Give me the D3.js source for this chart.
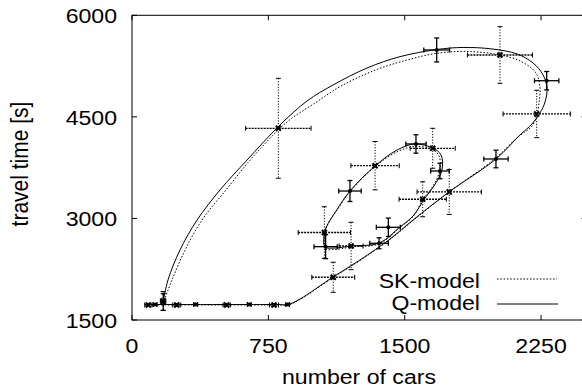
<!DOCTYPE html>
<html>
<head>
<meta charset="utf-8">
<script src="https://d3js.org/d3.v7.min.js"></script>
<style>
  body { margin: 0; background: #fff; }
  text { font-family: "Liberation Sans", Arial, sans-serif; font-size: 21px; fill: #000; }
</style>
</head>
<body>
<svg width="582" height="390"></svg>
<script>

var xTicks = [0, 750, 1500, 2250];
var yTicks = [1500, 3000, 4500, 6000];

// SK-model measurements (cross markers, dotted error bars)
var skX    = [805, 2024, 2226, 1745, 1599, 1654, 1337, 1058, 1205, 1107, 90, 171, 246, 521, 781];
var skY    = [4331, 5414, 4543, 3391, 3283, 4036, 3779, 2792, 2593, 2131, 1722, 1780, 1722, 1722, 1722];
var skXErr = [180, 179, 185, 177, 130, 124, 133, 144, 66, 118, 20, 15, 22, 20, 25];
var skYErr = [738, 418, 350, 332, 258, 295, 357, 381, 350, 222, 20, 140, 20, 20, 20];

// Q-model measurements (solid error bars)
var qX    = [1676, 2281, 2002, 1694, 1562, 1199, 1065, 1359, 1410, 127, 172, 350, 645, 856];
var qY    = [5488, 5034, 3878, 3701, 4100, 3405, 2583, 2633, 2869, 1729, 1766, 1729, 1729, 1729];
var qXErr = [71, 67, 67, 51, 56, 62, 64, 51, 66, 10, 10, 10, 10, 10];
var qYErr = [177, 136, 130, 115, 136, 155, 177, 81, 136, 10, 123, 10, 10, 10];

// model curves
var qOuter = [[71,1729],[500,1729],[800,1729],[858,1729],[924,1810],[1106,2135],[1254,2386],[1419,2696],
  [1546,2977],[1744,3391],[2002,3878],[2134,4232],[2200,4395],[2244,4557],[2272,4720],[2283,4927],
  [2261,5119],[2206,5296],[2118,5429],[1980,5503],[1821,5525],[1678,5495],[1474,5389],[1293,5222],
  [1106,4971],[963,4735],[814,4380],[633,3863],[484,3420],[358,2977],[264,2534],[198,2091],[171,1766]];
var qInner = [[1062,2578],[1056,2711],[1067,2859],[1126,3125],[1199,3405],[1337,3775],[1458,4011],
  [1557,4100],[1656,4036],[1700,3937],[1705,3716],[1661,3479],[1612,3302],[1546,3036],[1474,2874],
  [1359,2637],[1205,2593],[1117,2563]];
var skOuter = [[71,1722],[500,1722],[800,1722],[858,1722],[924,1803],[1106,2128],[1254,2379],[1419,2689],
  [1546,2970],[1744,3391],[1991,3871],[2123,4203],[2200,4365],[2228,4543],[2241,4749],[2244,4927],
  [2222,5148],[2140,5318],[2024,5414],[1843,5466],[1678,5439],[1513,5340],[1326,5178],[1144,4946],
  [1007,4705],[853,4425],[660,3893],[517,3420],[385,2977],[292,2534],[220,2091],[176,1781]];
var skInner = [[1062,2556],[1056,2711],[1067,2859],[1128,3125],[1202,3405],[1337,3767],[1458,3984],
  [1557,4063],[1654,4018],[1689,3922],[1694,3716],[1656,3479],[1606,3302],[1546,3029],[1474,2866],
  [1359,2625],[1205,2578],[1117,2541]];

var svg = d3.select("svg");
var x = d3.scaleLinear().domain([0, 2500]).range([132, 586.5]);
var y = d3.scaleLinear().domain([1500, 6000]).range([320, 15.3]);
var dots = "1.5,1.8";

// frame
svg.append("rect")
    .attr("x", x(0)).attr("y", y(6000))
    .attr("width", x(2500) - x(0)).attr("height", y(1500) - y(6000))
    .attr("fill", "none").attr("stroke", "#000").attr("stroke-width", 1);

xTicks.forEach(function(t) {
  svg.append("line").attr("x1", x(t)).attr("x2", x(t)).attr("y1", y(1500)).attr("y2", y(1500) - 5).attr("stroke", "#000");
  svg.append("line").attr("x1", x(t)).attr("x2", x(t)).attr("y1", y(6000)).attr("y2", y(6000) + 5).attr("stroke", "#000");
  svg.append("text")
      .attr("transform", "translate(" + x(t) + ",352.7) scale(1.1,1)")
      .attr("text-anchor", "middle")
      .text(t);
});

yTicks.forEach(function(t) {
  svg.append("line").attr("x1", x(0)).attr("x2", x(0) + 5).attr("y1", y(t)).attr("y2", y(t)).attr("stroke", "#000");
  svg.append("line").attr("x1", x(2500)).attr("x2", x(2500) - 5).attr("y1", y(t)).attr("y2", y(t)).attr("stroke", "#000");
  svg.append("text")
      .attr("transform", "translate(117," + (y(t) + 8) + ") scale(1.1,1)")
      .attr("text-anchor", "end")
      .text(t);
});

svg.append("text")
    .attr("transform", "translate(359,384) scale(1.1,1)")
    .attr("text-anchor", "middle")
    .text("number of cars");

svg.append("text")
    .attr("transform", "translate(28,164) scale(1.1,1) rotate(-90)")
    .attr("text-anchor", "middle")
    .text("travel time [s]");

// curves
var line = d3.line()
    .x(function(d) { return x(d[0]); })
    .y(function(d) { return y(d[1]); })
    .curve(d3.curveCatmullRom.alpha(0.5));
var loop = d3.line()
    .x(function(d) { return x(d[0]); })
    .y(function(d) { return y(d[1]); })
    .curve(d3.curveCatmullRomClosed.alpha(0.5));

svg.append("path").attr("d", line(skOuter)).attr("fill", "none").attr("stroke", "#000").attr("stroke-dasharray", dots);
svg.append("path").attr("d", loop(skInner)).attr("fill", "none").attr("stroke", "#000").attr("stroke-dasharray", dots);
svg.append("path").attr("d", line(qOuter)).attr("fill", "none").attr("stroke", "#000");
svg.append("path").attr("d", loop(qInner)).attr("fill", "none").attr("stroke", "#000");

// error bars
function errorBars(xs, ys, xe, ye, dashed, w) {
  var g = svg.append("g").attr("stroke", "#000").attr("stroke-width", w);
  xs.forEach(function(v, i) {
    var cx = x(v), cy = y(ys[i]);
    var x0 = x(v - xe[i]), x1 = x(v + xe[i]);
    var y0 = y(ys[i] + ye[i]), y1 = y(ys[i] - ye[i]);
    g.append("line").attr("x1", x0).attr("x2", x1).attr("y1", cy).attr("y2", cy)
        .attr("stroke-width", dashed ? 1.3 : w)
        .attr("stroke-dasharray", dashed ? "2,1" : null);
    g.append("line").attr("x1", cx).attr("x2", cx).attr("y1", y0).attr("y2", y1)
        .attr("stroke-dasharray", dashed ? "1.2,1.6" : null);
    [x0, x1].forEach(function(e) {
      g.append("line").attr("x1", e).attr("x2", e).attr("y1", cy - 2.5).attr("y2", cy + 2.5);
    });
    [y0, y1].forEach(function(e) {
      g.append("line").attr("x1", cx - 2.5).attr("x2", cx + 2.5).attr("y1", e).attr("y2", e);
    });
  });
}
errorBars(skX, skY, skXErr, skYErr, true, 1);
errorBars(qX, qY, qXErr, qYErr, false, 1.3);

// markers
skX.forEach(function(v, i) {
  var cx = x(v), cy = y(skY[i]), s = 2.5;
  svg.append("path")
      .attr("d", "M" + (cx - s) + "," + (cy - s) + "L" + (cx + s) + "," + (cy + s) +
                 "M" + (cx - s) + "," + (cy + s) + "L" + (cx + s) + "," + (cy - s))
      .attr("stroke", "#000").attr("stroke-width", 2);
});
qX.forEach(function(v, i) {
  svg.append("circle").attr("cx", x(v)).attr("cy", y(qY[i])).attr("r", 2).attr("fill", "#000");
});

// legend
svg.append("text").attr("transform", "translate(480,287.5) scale(1.1,1)").attr("text-anchor", "end").text("SK-model");
svg.append("text").attr("transform", "translate(480,310) scale(1.1,1)").attr("text-anchor", "end").text("Q-model");
svg.append("line").attr("x1", 497).attr("x2", 557).attr("y1", 279).attr("y2", 279)
    .attr("stroke", "#000").attr("stroke-dasharray", dots);
svg.append("line").attr("x1", 497).attr("x2", 558).attr("y1", 304).attr("y2", 304)
    .attr("stroke", "#000");

</script>
</body>
</html>
